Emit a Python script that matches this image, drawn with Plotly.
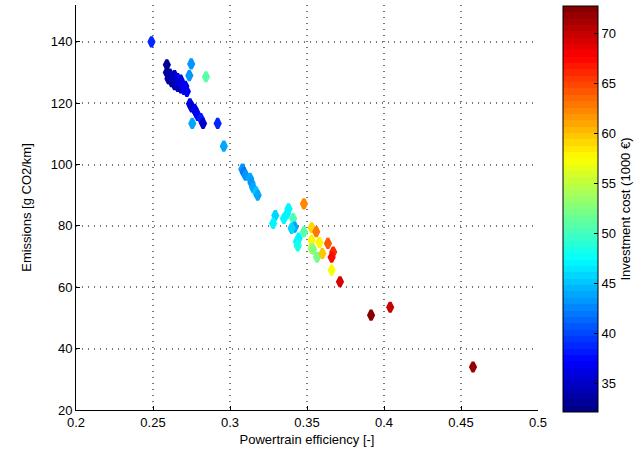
import plotly.graph_objects as go

# Data
efficiency = [
    0.249,
    0.259, 0.259, 0.260, 0.261, 0.262, 0.263, 0.264, 0.264, 0.265, 0.266, 0.266, 0.267,
    0.268, 0.268, 0.269, 0.270, 0.271, 0.272,
    0.274, 0.275, 0.277, 0.278, 0.279, 0.281,
    0.2755, 0.2825, 0.292, 0.296,
    0.2748, 0.2736, 0.2844,
    0.308, 0.309, 0.310, 0.313, 0.314, 0.315, 0.317, 0.318,
    0.3294, 0.328, 0.335, 0.337, 0.338, 0.341, 0.342, 0.340, 0.348, 0.3446, 0.3435, 0.344,
    0.348, 0.353, 0.356, 0.353, 0.353, 0.358, 0.3636, 0.367, 0.354, 0.3565, 0.360,
    0.366, 0.366, 0.3714,
    0.3916, 0.404, 0.4578,
]
emissions = [
    140.0,
    132.5, 130.0, 128.0, 129.5, 127.0, 128.5, 126.0, 129.0, 127.5, 125.5, 128.0, 126.5,
    125.0, 127.5, 126.0, 124.5, 125.5, 123.8,
    119.8, 118.8, 118.0, 117.0, 116.0, 115.0,
    113.4, 113.4, 113.4, 106.0,
    132.8, 129.0, 128.6,
    98.5, 97.5, 96.5, 95.5, 94.0, 92.5, 91.0, 90.0,
    83.4, 80.8, 82.4, 84.0, 85.6, 82.4, 79.6, 79.2, 78.1, 76.0, 74.8, 73.5,
    87.2, 79.4, 78.1, 75.3, 72.7, 74.6, 74.3, 71.5, 72.4, 69.8, 71.0,
    69.8, 65.6, 61.8,
    50.9, 53.5, 34.0,
]
investment_cost = [
    39,
    33, 33, 34, 34, 33, 35, 34, 35, 34, 35, 36, 35,
    34, 36, 36, 36, 37, 37,
    36, 35, 37, 36, 37, 38,
    44, 35, 39, 44,
    43, 43, 51,
    43, 42, 43, 44, 43, 44, 45, 44,
    46, 47, 47, 47, 47, 50, 44, 46, 51, 47, 47, 48,
    62, 59, 63, 58, 54, 58, 64, 66, 53, 52, 60,
    67, 57, 69,
    72.7, 70, 72,
]

x_ticks = [0.2, 0.25, 0.3, 0.35, 0.4, 0.45, 0.5]
y_ticks = [20, 40, 60, 80, 100, 120, 140]
cbar_ticks = [35, 40, 45, 50, 55, 60, 65, 70]

# MATLAB-like 64-step jet colormap
def jet(t):
    def ch(v):
        return max(0.0, min(1.0, v))
    r = ch(1.5 - abs(4 * t - 3))
    g = ch(1.5 - abs(4 * t - 2))
    b = ch(1.5 - abs(4 * t - 1))
    return f"rgb({int(r*255)},{int(g*255)},{int(b*255)})"

N = 64
jet_scale = []
for i in range(N):
    c = jet((i + 0.5) / N)
    jet_scale.append([i / N, c])
    jet_scale.append([(i + 1) / N, c])

cmin, cmax = 32.1, 72.7
font = dict(family="Liberation Sans, Arial, sans-serif", size=13, color="black")

fig = go.Figure(go.Scatter(
    x=efficiency, y=emissions, mode="markers",
    marker=dict(
        symbol="diamond-tall", size=7,
        color=investment_cost, colorscale=jet_scale, cmin=cmin, cmax=cmax,
        line=dict(width=3, color=investment_cost, colorscale=jet_scale, cmin=cmin, cmax=cmax),
        colorbar=dict(
            x=1.054, xanchor="left", xpad=0, y=0.9975, yanchor="top", ypad=0,
            len=1.0025, lenmode="fraction", thickness=35,
            outlinecolor="black", outlinewidth=1,
            tickvals=cbar_ticks, ticks="inside", ticklen=4, tickcolor="black",
            tickfont=font,
            title=dict(text="Investment cost (1000 €)", side="right", font=font),
        ),
    ),
    showlegend=False,
))

axis_common = dict(
    showgrid=True, gridcolor="#777777", griddash="1px,5px", gridwidth=1.5,
    showline=True, linecolor="black", linewidth=1,
    ticks="inside", ticklen=4, tickcolor="black",
    tickfont=font, zeroline=False,
)
fig.update_xaxes(range=[0.2, 0.5], tickvals=x_ticks, ticktext=[str(v) for v in x_ticks],
                 title=dict(text="Powertrain efficiency [-]", font=font, standoff=6),
                 **axis_common)
fig.update_yaxes(range=[20, 152], tickvals=y_ticks,
                 title=dict(text="Emissions [g CO2/km]", font=font, standoff=16),
                 **axis_common)

fig.update_layout(
    width=640, height=459,
    margin=dict(l=76, r=102, t=5, b=49, autoexpand=False),
    paper_bgcolor="white", plot_bgcolor="white",
    font=font,
)
fig.write_html("out.html")
